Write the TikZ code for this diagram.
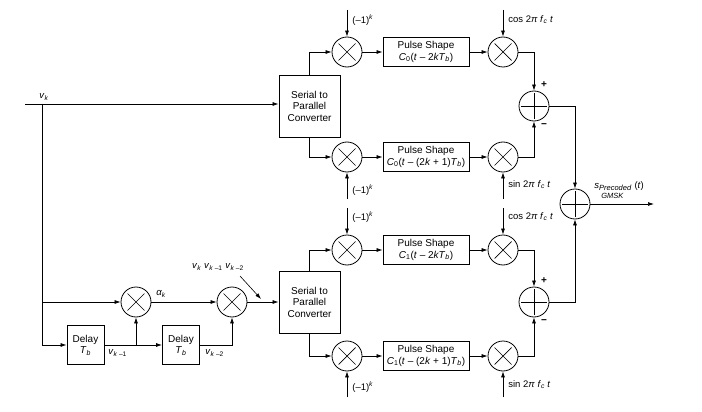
\documentclass[tikz,border=0pt]{standalone}
\usepackage{fontspec}
\setmainfont{Liberation Sans}
\usetikzlibrary{arrows.meta,calc}
\newcommand{\mysub}[1]{\textsubscript{#1}}
\newcommand{\mysup}[1]{\textsuperscript{#1}}
\begin{document}
\begin{tikzpicture}[x=1pt,y=-1pt,
  >={Latex[length=6pt,width=4pt]},
  line width=0.7pt,
  mult/.style={circle,draw,line width=0.8pt,minimum size=30pt,inner sep=0pt,
    path picture={\draw[line width=0.7pt]
      ([shift={(-8.5pt,-8.5pt)}]path picture bounding box.center) -- ([shift={(8.5pt,8.5pt)}]path picture bounding box.center)
      ([shift={(-8.5pt,8.5pt)}]path picture bounding box.center) -- ([shift={(8.5pt,-8.5pt)}]path picture bounding box.center);}},
  summ/.style={circle,draw,line width=0.8pt,minimum size=30pt,inner sep=0pt,
    path picture={\draw[line width=0.7pt]
      ([shift={(-13pt,0pt)}]path picture bounding box.center) -- ([shift={(13pt,0pt)}]path picture bounding box.center)
      ([shift={(0pt,-13pt)}]path picture bounding box.center) -- ([shift={(0pt,13pt)}]path picture bounding box.center);}},
  blk/.style={draw,line width=0.9pt,align=center,inner sep=0pt,font=\fontsize{10}{11.5}\selectfont},
  spbox/.style={blk,minimum width=61pt,minimum height=62pt},
  pbox/.style={blk,minimum width=86pt,minimum height=29pt},
  dbox/.style={blk,minimum width=37pt,minimum height=39pt},
  lab/.style={font=\fontsize{9.5}{10.5}\selectfont,inner sep=0pt},
  pm/.style={font=\fontsize{10}{11}\selectfont\bfseries,inner sep=0pt}
]
\useasboundingbox (0,0) rectangle (702,412);

% ---------- upper section ----------
\node[spbox] (sp1) at (309.5,106) {Serial to\\Parallel\\Converter};
\node[mult] (m1) at (347,52) {};
\node[pbox] (p1) at (426,52) {Pulse Shape\\\textit{C}\mysub{0}(\textit{t} – 2\textit{kT}\mysub{\textit{b}})};
\node[mult] (m2) at (503,52) {};
\node[mult] (m3) at (347,157) {};
\node[pbox] (p2) at (426,157) {Pulse Shape\\\textit{C}\mysub{0}(\textit{t} – (2\textit{k} + 1)\textit{T}\mysub{\textit{b}})};
\node[mult] (m4) at (503,157) {};
\node[summ] (s1) at (534,106) {};

% ---------- lower section ----------
\node[spbox] (sp2) at (309.5,302) {Serial to\\Parallel\\Converter};
\node[mult] (m5) at (347,250) {};
\node[pbox] (p3) at (426,250) {Pulse Shape\\\textit{C}\mysub{1}(\textit{t} – 2\textit{kT}\mysub{\textit{b}})};
\node[mult] (m6) at (503,250) {};
\node[mult] (m7) at (347,356) {};
\node[pbox] (p4) at (426,356) {Pulse Shape\\\textit{C}\mysub{1}(\textit{t} – (2\textit{k} + 1)\textit{T}\mysub{\textit{b}})};
\node[mult] (m8) at (503,356) {};
\node[summ] (s2) at (534,302) {};

\node[summ] (s3) at (575,204) {};

% ---------- precoder ----------
\node[mult] (ma) at (136,302) {};
\node[mult] (mb) at (232,302) {};
\node[dbox] (d1) at (85.5,345) {Delay\\\textit{T}\mysub{\textit{b}}};
\node[dbox] (d2) at (181,345) {Delay\\\textit{T}\mysub{\textit{b}}};

% input
\coordinate (vin) at (25,104);
\coordinate (j1) at (42,104);
\coordinate (j2) at (42,302);
\coordinate (j3) at (136,345);
\draw[->] (vin) -- (vin -| sp1.west);
\node[lab,anchor=south] (vk) at (44,101) {\textit{v}\mysub{\textit{k}}};
\draw[->] (j1) |- (d1.west);
\draw[->] (j2) -- (ma.west);
\draw[->] (d1.east) -- (d2.west);
\draw[->] (j3) -- (ma.south);
\draw[->] (d2.east) -| (mb.south);
\draw[->] (ma.east) -- (mb.west);
\draw[->] (mb.east) -- (sp2.west);
\node[lab,anchor=south west] (alab) at (156,298) {\textit{α}\mysub{\textit{k}}};
\node[lab,anchor=north west] (vk1) at (108,349) {\textit{v}\mysub{\textit{k} –1}};
\node[lab,anchor=north west] (vk2) at (205,349) {\textit{v}\mysub{\textit{k} –2}};
\coordinate (da) at (240,276);
\coordinate (db) at (261,299);
\draw[->,line width=0.6pt] (da) -- (db);
\node[lab] (vprod) at (218,267) {\textit{v}\mysub{\textit{k}} \textit{v}\mysub{\textit{k} –1} \textit{v}\mysub{\textit{k} –2}};

% upper section connectors
\draw[->] (sp1.north) |- (m1.west);
\draw[->] (sp1.south) |- (m3.west);
\draw[->] (m1.east) -- (p1.west);
\draw[->] (p1.east) -- (m2.west);
\draw[->] (m3.east) -- (p2.west);
\draw[->] (p2.east) -- (m4.west);
\draw[->] (m2.east) -| (s1.north);
\draw[->] (m4.east) -| (s1.south);
\node[pm] (s1p) at (544,85) {+};
\node[pm] (s1m) at (544,126) {−};

\coordinate (t1) at (347,10);
\coordinate (t2) at (503,10);
\coordinate (b1) at (347,199);
\coordinate (b2) at (503,199);
\draw[->] (t1) -- (m1.north);
\draw[->] (t2) -- (m2.north);
\draw[->] (b1) -- (m3.south);
\draw[->] (b2) -- (m4.south);
\node[lab,anchor=west] (l1) at (352,20) {(–1)\mysup{\textit{k}}};
\node[lab,anchor=west] (l2) at (508,20) {cos 2\textit{π} \textit{f}\mysub{\textit{c}} \textit{t}};
\node[lab,anchor=west] (l3) at (352,190) {(–1)\mysup{\textit{k}}};
\node[lab,anchor=west] (l4) at (508,185) {sin 2\textit{π} \textit{f}\mysub{\textit{c}} \textit{t}};

% lower section connectors
\draw[->] (sp2.north) |- (m5.west);
\draw[->] (sp2.south) |- (m7.west);
\draw[->] (m5.east) -- (p3.west);
\draw[->] (p3.east) -- (m6.west);
\draw[->] (m7.east) -- (p4.west);
\draw[->] (p4.east) -- (m8.west);
\draw[->] (m6.east) -| (s2.north);
\draw[->] (m8.east) -| (s2.south);
\node[pm] (s2p) at (544,281) {+};
\node[pm] (s2m) at (544,322) {−};

\coordinate (t3) at (347,208);
\coordinate (t4) at (503,208);
\coordinate (b3) at (347,397);
\coordinate (b4) at (503,397);
\draw[->] (t3) -- (m5.north);
\draw[->] (t4) -- (m6.north);
\draw[->] (b3) -- (m7.south);
\draw[->] (b4) -- (m8.south);
\node[lab,anchor=west] (l5) at (352,217) {(–1)\mysup{\textit{k}}};
\node[lab,anchor=west] (l6) at (508,217) {cos 2\textit{π} \textit{f}\mysub{\textit{c}} \textit{t}};
\node[lab,anchor=west] (l7) at (352,387) {(–1)\mysup{\textit{k}}};
\node[lab,anchor=west] (l8) at (508,385) {sin 2\textit{π} \textit{f}\mysub{\textit{c}} \textit{t}};

% final sum
\draw[->] (s1.east) -| (s3.north);
\draw[->] (s2.east) -| (s3.south);
\coordinate (out) at (654,204);
\draw[->] (s3.east) -- (out);
\node[lab,anchor=west] (olab) at (594,186) {\textit{s}\raisebox{-2pt}{\fontsize{7.5}{8}\selectfont\textit{Precoded}}\,\,(\textit{t})};
\node[lab,anchor=west,font=\fontsize{7.5}{8}\selectfont\itshape] (olab2) at (601,196) {GMSK};
\end{tikzpicture}
\end{document}
